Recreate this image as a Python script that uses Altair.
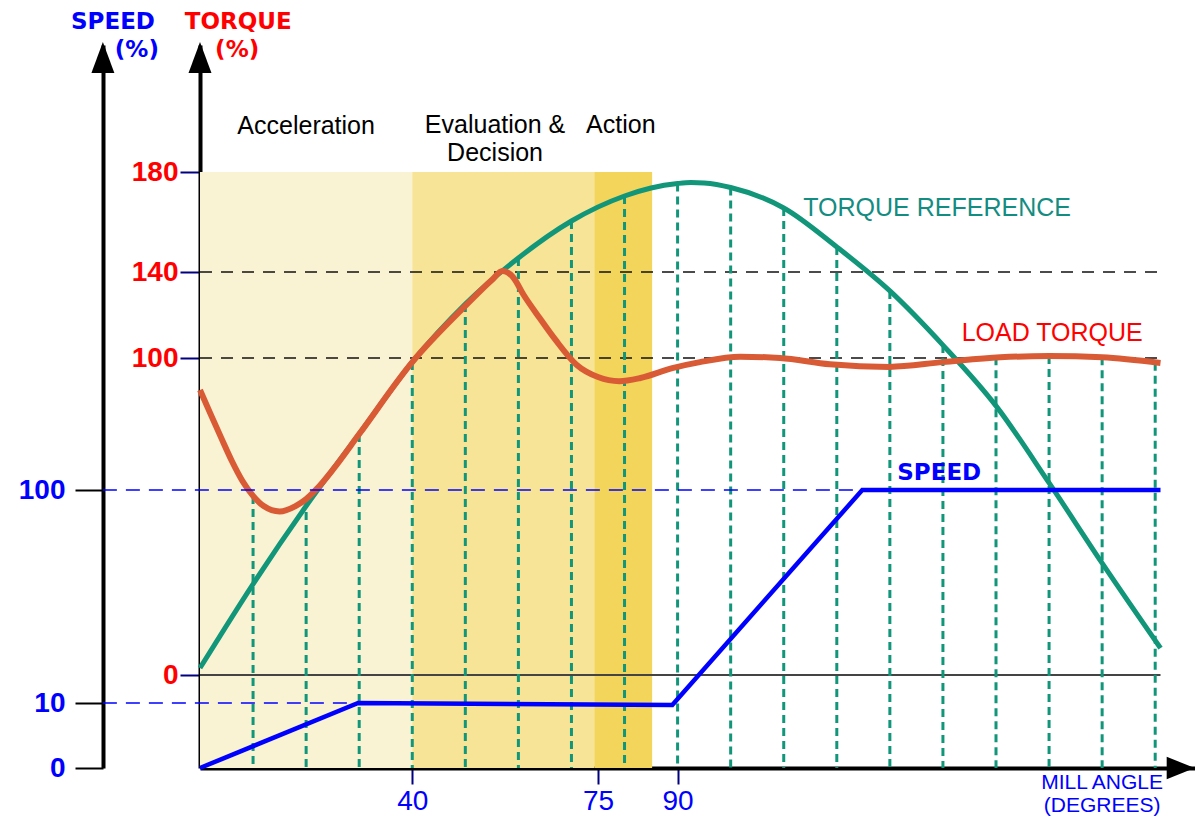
import altair as alt
import pandas as pd

# ---------------- data ----------------
# Torque reference curve: mill angle (deg) -> torque (%)
REF_ANGLE = [0, 10, 20, 30, 40, 50, 60, 70, 80, 85, 90, 92.5, 95, 100, 110, 120, 130, 140, 150, 160, 170, 181]
REF_TORQUE = [2.2, 28.7, 53.3, 76.0, 98.7, 125.1, 145.6, 160.4, 170.4, 173.6, 175.4, 175.8, 175.6, 173.8,
              165.6, 150.0, 131.2, 106.0, 84.9, 60.6, 35.3, 8.5]

# Load torque curve
LOAD_ANGLE = [0, 2, 4, 6, 8, 10, 12, 15, 18, 20, 22, 25, 30, 40, 50, 55, 57, 59, 61, 64, 67, 71, 75,
              79, 83, 89, 94.2, 101.8, 109.3, 118.7, 129.9, 140, 150.8, 160, 170, 181]
LOAD_TORQUE = [89.9, 82.3, 74.8, 67.5, 61.2, 56.5, 53.3, 51.6, 53.3, 55.5, 58.7, 64.7, 76.0, 98.7,
               124.2, 136.3, 140.4, 137.6, 129.3, 118.6, 108.4, 97.8, 94.0, 92.7, 93.7, 96.8, 98.7, 100.6,
               100.0, 98.0, 97.2, 98.7, 100.3, 100.9, 100.3, 98.4]

# Speed profile
SPEED_ANGLE = [0, 29.8, 89, 124.8, 181]
SPEED_VALUE = [0, 10, 9.7, 100, 100]

# Vertical sampling lines (angle, top = upper curve value)
GRID_ANGLE = [10, 20, 30, 40, 50, 60, 70, 80, 90, 100, 110, 120, 130, 140, 150, 160, 170, 180]
GRID_TOP = [56.5, 55.5, 76, 98.7, 125.1, 145.6, 160.4, 170.4, 175.4, 173.8, 165.6, 150, 131.2, 106, 100.3,
            100.9, 100.3, 98.5]

# Phases
PHASE_NAME = ["Acceleration", "Evaluation & Decision", "Action"]
PHASE_START = [0, 40, 74.3]
PHASE_END = [40, 74.3, 85.2]
PHASE_COLOR = ["#FAF3D3", "#F7E496", "#F3D55B"]
PHASE_TOP = 180

# Reference levels
TORQUE_LEVELS = [100, 140]
SPEED_LEVELS = [10, 100]
SPEED_LEVEL_END = [29.8, 124.8]
CURVE_END = 181

# Axis tick values
X_TICKS = [40, 75, 90]
TORQUE_TICKS = [0, 100, 140, 180]
SPEED_TICKS = [0, 10, 100]

# ---------------- scales ----------------
W, H = 995, 723
X_DOMAIN = [0, 187.5]
T_DOMAIN = [-29.3, 0, 100, 140, 180, 230.8]
T_RANGE = [723, 630, 313, 227, 127, 0]
S_DOMAIN = [0, 10, 100, 288]
S_RANGE = [723, 658, 445, 0]
T_MIN = T_DOMAIN[0]
SPEED_AXIS_ANGLE = -18.3

FONT = "Liberation Sans"
BOLD_FONT = "DejaVu Sans"
GREEN = "#11967A"
RED_LINE = "#D95B36"
BLUE = "#0000FF"
RED = "#FF0000"

xs = alt.Scale(domain=X_DOMAIN, nice=False, zero=False)
ts = alt.Scale(domain=T_DOMAIN, range=T_RANGE, nice=False, zero=False)
ss = alt.Scale(domain=S_DOMAIN, range=S_RANGE, nice=False, zero=False)

x_axis = alt.Axis(values=X_TICKS, title=None, grid=False, domainColor="black", domainWidth=4,
                  tickColor="#000080", tickWidth=2, tickSize=16, labelColor=BLUE, labelFont=FONT,
                  labelFontSize=28, labelPadding=3, labelFlush=False, labelOverlap=False)
t_axis = alt.Axis(values=TORQUE_TICKS, title=None, grid=False, orient="left", domainColor="black",
                  domainWidth=4, tickColor="#000080", tickWidth=2, tickSize=20, labelColor=RED,
                  labelFont=FONT, labelFontWeight="bold", labelFontSize=28, labelPadding=2,
                  labelOverlap=False)
s_axis = alt.Axis(values=SPEED_TICKS, title=None, grid=False, orient="left", offset=97,
                  domainColor="black", domainWidth=4, tickColor="black", tickWidth=2, tickSize=28,
                  labelColor=BLUE, labelFont=FONT, labelFontWeight="bold", labelFontSize=28,
                  labelPadding=10, labelOverlap=False)


def X(field):
    return alt.X(field, type="quantitative", scale=xs, axis=x_axis, title=None)


def TY(field):
    return alt.Y(field, type="quantitative", scale=ts, axis=t_axis, title=None)


def SY(field):
    return alt.Y(field, type="quantitative", scale=ss, axis=s_axis, title=None)


ref_df = pd.DataFrame({"angle": REF_ANGLE, "torque": REF_TORQUE})
load_df = pd.DataFrame({"angle": LOAD_ANGLE, "torque": LOAD_TORQUE})
speed_df = pd.DataFrame({"angle": SPEED_ANGLE, "speed": SPEED_VALUE})
grid_df = pd.DataFrame({"angle": GRID_ANGLE, "top": GRID_TOP, "bottom": [T_MIN] * len(GRID_ANGLE)})
phase_df = pd.DataFrame({"phase": PHASE_NAME, "a0": PHASE_START, "a1": PHASE_END,
                         "top": [PHASE_TOP] * 3, "bottom": [T_MIN] * 3})
tlev_df = pd.DataFrame({"level": TORQUE_LEVELS, "a0": [0] * 2, "a1": [CURVE_END] * 2})
zero_df = pd.DataFrame({"level": [0], "a0": [0], "a1": [CURVE_END]})
slev_df = pd.DataFrame({"level": SPEED_LEVELS, "a0": [SPEED_AXIS_ANGLE] * 2, "a1": SPEED_LEVEL_END})

phases = alt.Chart(phase_df).mark_rect().encode(
    x=X("a0"), x2="a1", y=TY("top"), y2="bottom",
    color=alt.Color("phase:N", scale=alt.Scale(domain=PHASE_NAME, range=PHASE_COLOR), legend=None),
)

tlevels = alt.Chart(tlev_df).mark_rule(color="#111111", strokeWidth=1.5, strokeDash=[12, 9]).encode(
    x=X("a0"), x2="a1", y=TY("level"))

zero_line = alt.Chart(zero_df).mark_rule(color="#444444", strokeWidth=2).encode(
    x=X("a0"), x2="a1", y=TY("level"))

grid = alt.Chart(grid_df).mark_rule(color=GREEN, strokeWidth=3, strokeDash=[8, 5]).encode(
    x=X("angle"), y=TY("top"), y2="bottom")

ref_line = alt.Chart(ref_df).mark_line(color=GREEN, strokeWidth=5, interpolate="monotone").encode(
    x=X("angle"), y=TY("torque"))

load_line = alt.Chart(load_df).mark_line(color=RED_LINE, strokeWidth=6, interpolate="monotone").encode(
    x=X("angle"), y=TY("torque"))

UP_ARROW = "M0,-1L0.74,1L-0.74,1Z"
RIGHT_ARROW = "M1,0L-1,-0.8L-1,0.8Z"

t_arrow = alt.Chart(pd.DataFrame({"angle": [0], "torque": [225.8]})).mark_point(
    shape=UP_ARROW, size=961, filled=True, color="black", opacity=1, strokeWidth=0).encode(
    x=X("angle"), y=TY("torque"))
x_arrow = alt.Chart(pd.DataFrame({"angle": [184.8], "torque": [T_MIN]})).mark_point(
    shape=RIGHT_ARROW, size=784, filled=True, color="black", opacity=1, strokeWidth=0).encode(
    x=X("angle"), y=TY("torque"))


def tlabel(text, angle, torque, color, size, font=FONT, weight="normal", line_height=None):
    kw = {}
    if line_height is not None:
        kw = {"lineBreak": "\n", "lineHeight": line_height}
    return alt.Chart(pd.DataFrame({"angle": [angle], "torque": [torque], "t": [text]})).mark_text(
        color=color, fontSize=size, font=font, fontWeight=weight, align="center", baseline="middle", **kw
    ).encode(x=X("angle"), y=TY("torque"), text="t:N")


texts = [
    tlabel("SPEED", -16.4, 240, BLUE, 23, BOLD_FONT, "bold"),
    tlabel("(%)", -11.9, 228.8, BLUE, 23, BOLD_FONT, "bold"),
    tlabel("TORQUE", 7.2, 240, RED, 23, BOLD_FONT, "bold"),
    tlabel("(%)", 7.0, 228.8, RED, 23, BOLD_FONT, "bold"),
    tlabel("Acceleration", 20.0, 198.4, "black", 25),
    tlabel("Evaluation &\nDecision", 55.6, 198.8, "black", 25, line_height=28),
    tlabel("Action", 79.3, 198.8, "black", 25),
    tlabel("TORQUE REFERENCE", 138.9, 165.6, "#138C82", 25),
    tlabel("LOAD TORQUE", 160.6, 111.6, RED, 25),
    tlabel("MILL ANGLE\n(DEGREES)", 170, -34.1, BLUE, 21, line_height=23),
]

torque_group = alt.layer(phases, tlevels, zero_line, grid, ref_line, load_line, t_arrow, x_arrow, *texts)

slevels = alt.Chart(slev_df).mark_rule(color=BLUE, strokeWidth=1.5, strokeDash=[14, 9]).encode(
    x=X("a0"), x2="a1", y=SY("level"))

speed_line = alt.Chart(speed_df).mark_line(color=BLUE, strokeWidth=4.5).encode(
    x=X("angle"), y=SY("speed"))

s_arrow = alt.Chart(pd.DataFrame({"angle": [SPEED_AXIS_ANGLE], "speed": [282.7]})).mark_point(
    shape=UP_ARROW, size=961, filled=True, color="black", opacity=1, strokeWidth=0).encode(
    x=X("angle"), y=SY("speed"))

speed_text = alt.Chart(pd.DataFrame({"angle": [139.3], "speed": [107.2], "t": ["SPEED"]})).mark_text(
    color=BLUE, fontSize=23, font=BOLD_FONT, fontWeight="bold", align="center", baseline="middle"
).encode(x=X("angle"), y=SY("speed"), text="t:N")

speed_group = alt.layer(slevels, speed_line, s_arrow, speed_text)

chart = alt.layer(torque_group, speed_group).resolve_scale(y="independent").properties(
    width=W, height=H,
    padding={"left": 192, "top": 37, "right": 0, "bottom": 52},
    autosize=alt.AutoSizeParams(type="none"),
).configure_view(stroke=None)

chart.save("out.html", embed_options={"renderer": "svg", "actions": False})
